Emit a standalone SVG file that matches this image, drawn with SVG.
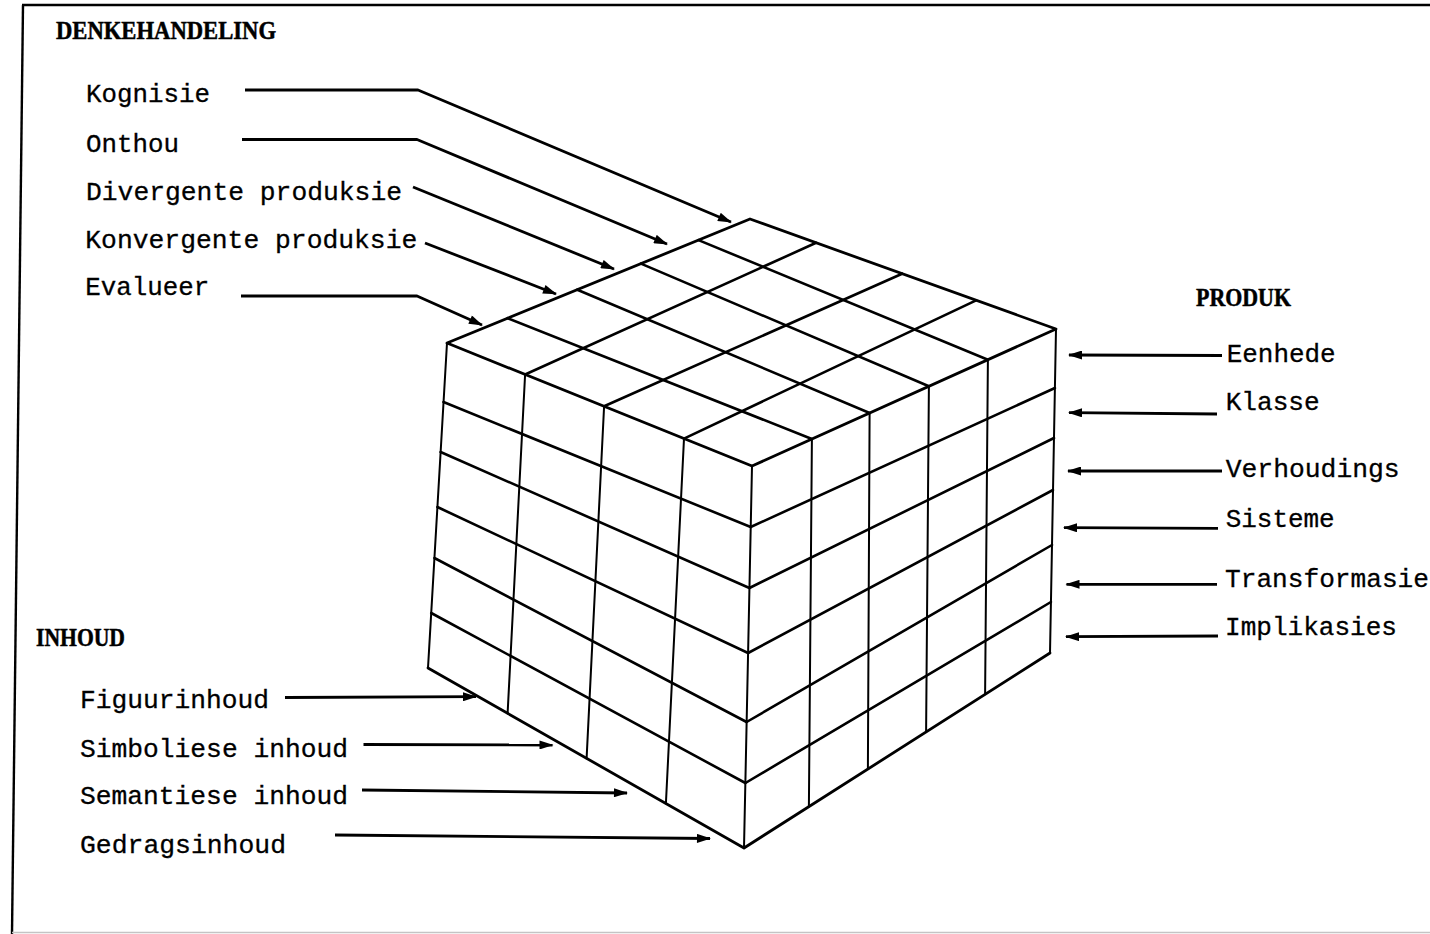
<svg xmlns="http://www.w3.org/2000/svg" width="1430" height="934" viewBox="0 0 1430 934">
<defs>
<style>
.frame{stroke:#000;stroke-width:2.4;fill:none}
.edge{stroke:#000;stroke-width:2.8;fill:none;stroke-linecap:round;stroke-linejoin:round}
.grid{stroke:#000;stroke-width:2.6;fill:none;stroke-linecap:round}
.col{stroke:#000;stroke-width:2;fill:none;stroke-linecap:round}
.conn{stroke:#000;stroke-width:2.8;fill:none;stroke-linejoin:round}
.lbl{font-family:"Liberation Mono","Courier New",monospace;font-size:26px;fill:#000;stroke:#000;stroke-width:0.3}
.hdr{font-family:"Liberation Serif","Times New Roman",serif;font-weight:bold;font-size:25px;fill:#000;stroke:#000;stroke-width:0.5}
</style>
<marker id="ah" viewBox="0 0 14 9" refX="13" refY="4.5" markerWidth="15" markerHeight="9" markerUnits="userSpaceOnUse" orient="auto">
<path d="M0,0 L14,4.5 L0,9 Z" fill="#000"/>
</marker>
</defs>
<rect width="1430" height="934" fill="#fff"/>
<g id="frame">
<line class="frame" x1="22" y1="5" x2="1430" y2="5"/>
<line class="frame" x1="23" y1="5" x2="12" y2="934"/>
<line x1="12" y1="932.5" x2="1430" y2="932.5" stroke="#c4c4c4" stroke-width="1.6"/>
</g>
<g id="cube">
<line class="grid" x1="507.6" y1="318.2" x2="811.9" y2="439.0"/>
<line class="grid" x1="577.3" y1="289.7" x2="869.6" y2="413.0"/>
<line class="grid" x1="640.9" y1="263.6" x2="928.9" y2="386.3"/>
<line class="grid" x1="698.5" y1="240.1" x2="987.9" y2="359.7"/>
<line class="grid" x1="525.1" y1="374.5" x2="816.1" y2="242.8"/>
<line class="grid" x1="604.1" y1="406.3" x2="902.1" y2="273.7"/>
<line class="grid" x1="684.0" y1="438.6" x2="976.1" y2="300.3"/>
<line class="grid" x1="443.5" y1="402" x2="750.7" y2="527"/>
<line class="grid" x1="440.6" y1="452" x2="749.4" y2="588"/>
<line class="grid" x1="437.4" y1="507" x2="748.1" y2="653"/>
<line class="grid" x1="434.4" y1="558" x2="746.6" y2="722"/>
<line class="grid" x1="431.2" y1="613" x2="745.4" y2="783"/>
<line class="grid" x1="750.7" y1="527" x2="1054.9" y2="388"/>
<line class="grid" x1="749.4" y1="588" x2="1054.0" y2="438"/>
<line class="grid" x1="748.1" y1="653" x2="1053.0" y2="490"/>
<line class="grid" x1="746.6" y1="722" x2="1052.0" y2="545"/>
<line class="grid" x1="745.4" y1="783" x2="1050.9" y2="602"/>
<line class="col" x1="525.1" y1="374.5" x2="507.6" y2="713.4"/>
<line class="col" x1="604.1" y1="406.3" x2="586.6" y2="758.4"/>
<line class="col" x1="684.0" y1="438.6" x2="665.9" y2="803.5"/>
<line class="col" x1="811.9" y1="439.0" x2="808.9" y2="806.6"/>
<line class="col" x1="869.6" y1="413.0" x2="867.9" y2="769.0"/>
<line class="col" x1="928.9" y1="386.3" x2="926.1" y2="732.0"/>
<line class="col" x1="987.9" y1="359.7" x2="985.1" y2="694.3"/>
<path class="edge" d="M447,343 L750,219 L1056,329 L752,466 Z"/>
<path class="col" d="M447,343 L428,668 M752,466 L744,848 M1056,329 L1050,653"/>
<path class="edge" d="M428,668 L744,848 L1050,653"/>
</g>
<g id="connectors">
<polyline class="conn" points="245,90 418,90 731,222" marker-end="url(#ah)"/>
<polyline class="conn" points="242,139.5 417,139.5 667,244" marker-end="url(#ah)"/>
<polyline class="conn" points="413,187 614,269" marker-end="url(#ah)"/>
<polyline class="conn" points="425,243 556,294" marker-end="url(#ah)"/>
<polyline class="conn" points="241,296 417,296 482,325" marker-end="url(#ah)"/>
<line class="conn" x1="1222" y1="355.5" x2="1069" y2="355" marker-end="url(#ah)"/>
<line class="conn" x1="1217" y1="414" x2="1069" y2="412.7" marker-end="url(#ah)"/>
<line class="conn" x1="1222" y1="471" x2="1068" y2="471" marker-end="url(#ah)"/>
<line class="conn" x1="1218" y1="528.3" x2="1064" y2="527.7" marker-end="url(#ah)"/>
<line class="conn" x1="1217" y1="584.3" x2="1066.5" y2="584.3" marker-end="url(#ah)"/>
<line class="conn" x1="1218" y1="636" x2="1066" y2="636.7" marker-end="url(#ah)"/>
<line class="conn" x1="285" y1="697.5" x2="476" y2="696.7" marker-end="url(#ah)"/>
<line class="conn" x1="363.5" y1="744.5" x2="552.5" y2="745" marker-end="url(#ah)"/>
<line class="conn" x1="362" y1="790" x2="627" y2="793" marker-end="url(#ah)"/>
<line class="conn" x1="335" y1="835" x2="710" y2="838.5" marker-end="url(#ah)"/>
</g>
<g id="denkehandeling">
<text class="hdr" x="56" y="38.5" textLength="220" lengthAdjust="spacingAndGlyphs">DENKEHANDELING</text>
<g id="kognisie"><text class="lbl" x="86" y="102" textLength="124" lengthAdjust="spacingAndGlyphs">Kognisie</text></g>
<g id="onthou"><text class="lbl" x="86" y="151.5" textLength="93" lengthAdjust="spacingAndGlyphs">Onthou</text></g>
<g id="divergente"><text class="lbl" x="86" y="199.5" textLength="316" lengthAdjust="spacingAndGlyphs">Divergente produksie</text></g>
<g id="konvergente"><text class="lbl" x="85.3" y="247.5" textLength="332" lengthAdjust="spacingAndGlyphs">Konvergente produksie</text></g>
<g id="evalueer"><text class="lbl" x="85.3" y="295" textLength="124" lengthAdjust="spacingAndGlyphs">Evalueer</text></g>
</g>
<g id="produk">
<text class="hdr" x="1196" y="306" textLength="95" lengthAdjust="spacingAndGlyphs">PRODUK</text>
<g id="eenhede"><text class="lbl" x="1226.7" y="361.7" textLength="109" lengthAdjust="spacingAndGlyphs">Eenhede</text></g>
<g id="klasse"><text class="lbl" x="1225.7" y="410" textLength="94" lengthAdjust="spacingAndGlyphs">Klasse</text></g>
<g id="verhoudings"><text class="lbl" x="1225.7" y="477.3" textLength="174" lengthAdjust="spacingAndGlyphs">Verhoudings</text></g>
<g id="sisteme"><text class="lbl" x="1225.7" y="526.7" textLength="109" lengthAdjust="spacingAndGlyphs">Sisteme</text></g>
<g id="transformasie"><text class="lbl" x="1225" y="586.7" textLength="204" lengthAdjust="spacingAndGlyphs">Transformasie</text></g>
<g id="implikasies"><text class="lbl" x="1225" y="635" textLength="172" lengthAdjust="spacingAndGlyphs">Implikasies</text></g>
</g>
<g id="inhoud">
<text class="hdr" x="36" y="646" textLength="89" lengthAdjust="spacingAndGlyphs">INHOUD</text>
<g id="figuurinhoud"><text class="lbl" x="80" y="708.3" textLength="189" lengthAdjust="spacingAndGlyphs">Figuurinhoud</text></g>
<g id="simboliese"><text class="lbl" x="80" y="756.7" textLength="268" lengthAdjust="spacingAndGlyphs">Simboliese inhoud</text></g>
<g id="semantiese"><text class="lbl" x="80" y="804" textLength="268" lengthAdjust="spacingAndGlyphs">Semantiese inhoud</text></g>
<g id="gedragsinhoud"><text class="lbl" x="80" y="853.3" textLength="206" lengthAdjust="spacingAndGlyphs">Gedragsinhoud</text></g>
</g>
</svg>
